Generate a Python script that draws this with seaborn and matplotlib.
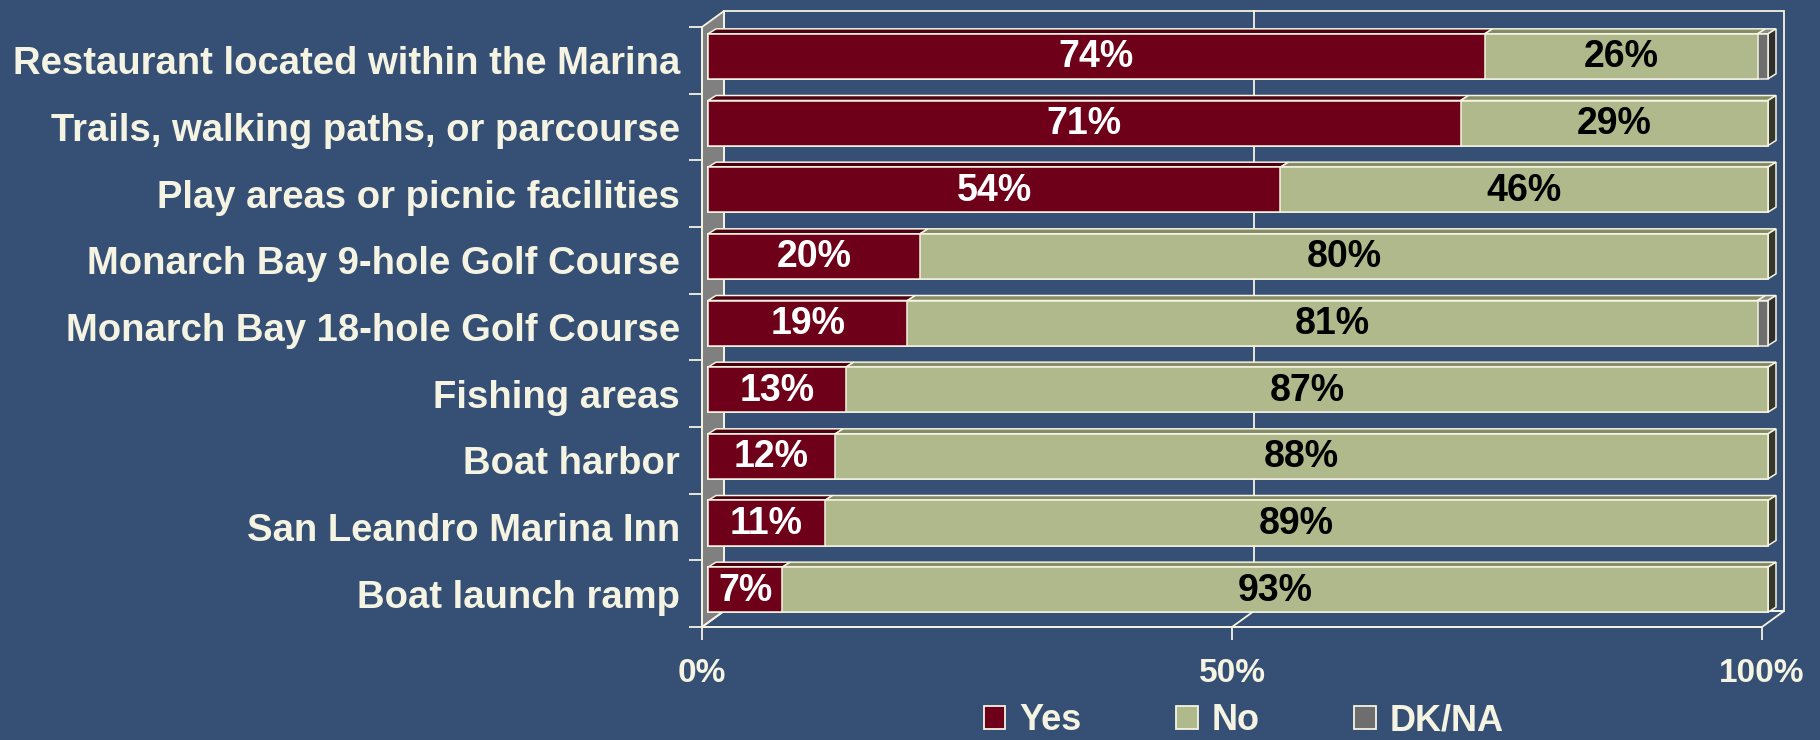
import numpy as np
import pandas as pd
import matplotlib
matplotlib.use("Agg")
import matplotlib.pyplot as plt
import matplotlib.transforms as mtrans
from matplotlib.patches import Polygon, Patch
import seaborn as sns

items = [
    "Restaurant located within the Marina",
    "Trails, walking paths, or parcourse",
    "Play areas or picnic facilities",
    "Monarch Bay 9-hole Golf Course",
    "Monarch Bay 18-hole Golf Course",
    "Fishing areas",
    "Boat harbor",
    "San Leandro Marina Inn",
    "Boat launch ramp",
]
yes = [74, 71, 54, 20, 19, 13, 12, 11, 7]
no = [26, 29, 46, 80, 81, 87, 88, 89, 93]
dk = [1, 0, 0, 0, 1, 0, 0, 0, 0]
series = ["Yes", "No", "DK/NA"]
xticks = [0, 50, 100]
xtick_labels = ["0%", "50%", "100%"]

BG = "#354F75"
CREAM = "#F5F3E1"
RED, GREEN, GRAY = "#6E0019", "#AFB98B", "#6E6E6E"
TOPS = {RED: "#4C0012", GREEN: "#858C66", GRAY: "#8C8C8C"}
SIDES = {RED: "#3A000C", GREEN: "#35372A", GRAY: "#2E2E2E"}

df = pd.DataFrame({"item": items, "yes": yes, "no": no, "dk": dk})
total = df[["yes", "no", "dk"]].sum(axis=1)
df["c1"] = df["yes"] / total * 100
df["c2"] = (df["yes"] + df["no"]) / total * 100
df["c3"] = 100.0

plt.rcParams["font.family"] = ["Liberation Sans", "DejaVu Sans"]
plt.rcParams["font.weight"] = "bold"

fig = plt.figure(figsize=(18.2, 7.4), dpi=100, facecolor=BG)
AX_W, AX_H = 1060, 600
ax = fig.add_axes([702 / 1820, 113 / 740, AX_W / 1820, AX_H / 740])
ax.set_facecolor("none")

n = len(items)
px_x = 100 / AX_W
px_y = n / AX_H


def sh(x, y, dx, dy):
    # shift a data point by pixels (dy up)
    return (x + dx * px_x, y - dy * px_y)


BAR_OFF = (6, 4)
BAR_DEPTH = (8, 5)
WALL = (22, 16)
BAR_H = 0.675

# walls
y0, y1 = -0.5, n - 0.5
wall_kw = dict(edgecolor=CREAM, linewidth=1.3, clip_on=False, zorder=0.5)
ax.add_patch(Polygon([(0, y0), sh(0, y0, *WALL), sh(0, y1, *WALL), (0, y1)],
                     facecolor="#808080", **wall_kw))
ax.add_patch(Polygon([sh(0, y0, *WALL), sh(100, y0, *WALL), sh(100, y1, *WALL), sh(0, y1, *WALL)],
                     facecolor="none", **wall_kw))
ax.add_patch(Polygon([(0, y1), (100, y1), sh(100, y1, *WALL), sh(0, y1, *WALL)],
                     facecolor="none", **wall_kw))
for t in xticks[1:-1]:
    ax.plot([sh(t, y0, *WALL)[0], sh(t, y1, *WALL)[0]], [sh(t, y0, *WALL)[1], sh(t, y1, *WALL)[1]],
            color=CREAM, lw=1.3, zorder=0.6, clip_on=False)
    ax.plot([t, sh(t, y1, *WALL)[0]], [y1, sh(t, y1, *WALL)[1]],
            color=CREAM, lw=1.3, zorder=0.6, clip_on=False)

# stacked bars, drawn back to front
offset = ax.transData + mtrans.ScaledTranslation(BAR_OFF[0] / 100, BAR_OFF[1] / 100, fig.dpi_scale_trans)
for col, color in [("c3", GRAY), ("c2", GREEN), ("c1", RED)]:
    sns.barplot(data=df, x=col, y="item", orient="h", color=color, saturation=1,
                width=BAR_H, edgecolor=CREAM, linewidth=1.1, ax=ax, zorder=2)
    for p in ax.containers[-1]:
        p.set_transform(offset)
        p.set_clip_on(False)

# 3d faces
for i in range(n):
    segs = [(0, df["c1"][i], RED), (df["c1"][i], df["c2"][i], GREEN), (df["c2"][i], df["c3"][i], GRAY)]
    segs = [s for s in segs if s[1] - s[0] > 1e-6]
    yt, yb = i - BAR_H / 2, i + BAR_H / 2
    bx, by = BAR_OFF
    dx, dy = bx + BAR_DEPTH[0], by + BAR_DEPTH[1]
    for a, b, c in segs:
        ax.add_patch(Polygon([sh(a, yt, bx, by), sh(b, yt, bx, by), sh(b, yt, dx, dy), sh(a, yt, dx, dy)],
                             facecolor=TOPS[c], edgecolor=CREAM, lw=1.1, clip_on=False, zorder=1.9))
    a, b, c = segs[-1]
    ax.add_patch(Polygon([sh(b, yt, bx, by), sh(b, yb, bx, by), sh(b, yb, dx, dy), sh(b, yt, dx, dy)],
                         facecolor=SIDES[c], edgecolor=CREAM, lw=1.1, clip_on=False, zorder=1.9))
    # value labels
    for a, b, val, tc in [(0, df["c1"][i], yes[i], "white"), (df["c1"][i], df["c2"][i], no[i], "black")]:
        px, py = sh((a + b) / 2, i, bx, by - 1)
        ax.text(px, py, f"{val}%", ha="center", va="center", color=tc,
                fontsize=27, fontweight="bold", zorder=3)

ax.set_xlim(0, 100)
ax.set_ylim(y1, y0)
ax.set_xlabel("")
ax.set_ylabel("")
for s in ["top", "right"]:
    ax.spines[s].set_visible(False)
for s in ["left", "bottom"]:
    ax.spines[s].set_color(CREAM)
    ax.spines[s].set_linewidth(1.3)

ax.set_xticks(xticks)
ax.set_xticklabels(xtick_labels)
ax.set_yticks(range(n))
ax.set_yticklabels(items)
ax.set_yticks(np.arange(-0.5, n), minor=True)
ax.tick_params(axis="y", which="major", length=0, pad=16, labelsize=27.5, labelcolor=CREAM)
ax.tick_params(axis="y", which="minor", length=9.4, width=1.3, color=CREAM)
ax.tick_params(axis="x", length=9.4, width=1.3, color=CREAM, pad=13, labelsize=24, labelcolor=CREAM)
for lab in ax.get_xticklabels() + ax.get_yticklabels():
    lab.set_fontweight("bold")

handles = [Patch(facecolor=c, edgecolor=CREAM, linewidth=1.3) for c in [RED, GREEN, GRAY]]
fig.legend(handles, series, loc="center", bbox_to_anchor=(0.6835, 0.026), ncol=3, frameon=False,
           labelcolor=CREAM, handlelength=0.6, handleheight=0.6, borderpad=0.1,
           handletextpad=0.4, columnspacing=2.6, prop={"weight": "bold", "size": 26})

fig.savefig("out.png", dpi=100, facecolor=BG)
